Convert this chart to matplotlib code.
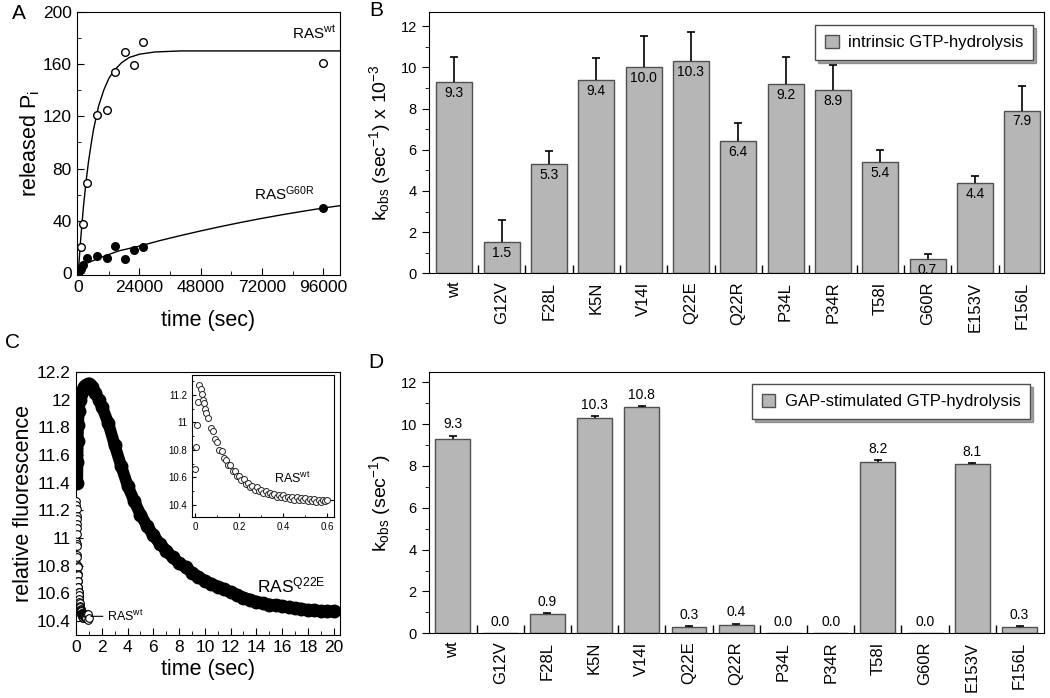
import numpy as np
import matplotlib
matplotlib.use("Agg")
import matplotlib.pyplot as plt
from matplotlib.ticker import MultipleLocator, FormatStrFormatter

plt.rcParams['font.family'] = ['Liberation Sans', 'DejaVu Sans']
plt.rcParams['mathtext.fontset'] = 'custom'
plt.rcParams['mathtext.rm'] = 'Liberation Sans'
plt.rcParams['mathtext.it'] = 'Liberation Sans:italic'
plt.rcParams['mathtext.bf'] = 'Liberation Sans:bold'

# ------------------------------------- Panel A : released Pi -------------#
pi_time = [0, 1000, 2000, 3500, 7200, 11100, 14600, 18300, 21900, 25400, 96100]
pi_wt = [0, 20, 38, 69, 121, 125, 154, 169, 159, 177, 161]
pi_g60r = [0, 3, 6, 11.5, 13, 12, 21, 11, 17.5, 20, 50]

wt_fit_t = [0, 1000, 2000, 3000, 4000, 5000, 6000, 8000, 10000, 12000, 14000,
            17000, 20000, 24000, 30000, 40000, 103000]
wt_fit_y = [0, 27, 50, 69, 85, 98, 110, 128, 140, 149, 155,
            161, 165, 167.5, 169.2, 170, 170]
g60r_fit_t = [0, 500, 1000, 2000, 3000, 4000, 8000, 12000, 16000, 24000, 32000,
              40000, 48000, 56000, 64000, 72000, 80000, 88000, 96000, 103000]
g60r_fit_y = [0, 3.3, 5.2, 6.9, 7.6, 8.2, 11.5, 14.4, 17.2, 20.8, 25,
              28.8, 32.4, 35.8, 39, 42, 44.8, 47.4, 49.9, 51.8]

# ------------------------------------- Panels B / D : bar data -----------#
mutants = ['wt', 'G12V', 'F28L', 'K5N', 'V14I', 'Q22E', 'Q22R', 'P34L',
           'P34R', 'T58I', 'G60R', 'E153V', 'F156L']
intrinsic = [9.3, 1.5, 5.3, 9.4, 10.0, 10.3, 6.4, 9.2, 8.9, 5.4, 0.7, 4.4, 7.9]
intrinsic_err = [1.2, 1.1, 0.65, 1.05, 1.5, 1.4, 0.9, 1.3, 1.2, 0.6, 0.25, 0.33, 1.2]
gap = [9.3, 0.0, 0.9, 10.3, 10.8, 0.3, 0.4, 0.0, 0.0, 8.2, 0.0, 8.1, 0.3]
gap_err = [0.15, 0, 0.05, 0.07, 0.07, 0.03, 0.06, 0, 0, 0.08, 0, 0.05, 0.03]

# ------------------------------------- Panel C : fluorescence ------------#
q22e_t = [0.08, 0.10, 0.12, 0.15, 0.20, 0.30, 0.40, 0.50, 0.60, 0.70, 0.80,
          0.90, 1.00, 1.10, 1.25, 1.50, 1.75, 2.00, 2.5, 3.0, 3.5, 4.0, 4.5,
          5.0, 5.5, 6.0, 6.5, 7.0, 7.5, 8.0, 8.5, 9.0, 9.5, 10.0, 10.5, 11.0,
          11.5, 12.0, 12.5, 13.0, 13.5, 14.0, 14.5, 15.0, 15.5, 16.0, 16.5,
          17.0, 17.5, 18.0, 18.5, 19.0, 19.5, 20.0]
q22e_y = [11.40, 11.55, 11.70, 11.82, 11.92, 12.00, 12.04, 12.07, 12.09, 12.10,
          12.105, 12.11, 12.11, 12.105, 12.09, 12.05, 12.00, 11.95, 11.83,
          11.67, 11.52, 11.38, 11.27, 11.17, 11.09, 11.02, 10.96, 10.91, 10.86,
          10.82, 10.79, 10.75, 10.72, 10.69, 10.67, 10.65, 10.63, 10.61, 10.59,
          10.57, 10.555, 10.54, 10.53, 10.52, 10.515, 10.51, 10.50, 10.495,
          10.49, 10.48, 10.477, 10.474, 10.472, 10.47]

wt_t = [0.000, 0.005, 0.010, 0.015, 0.020, 0.025, 0.030, 0.035, 0.040, 0.045,
        0.050, 0.06, 0.07, 0.08, 0.09, 0.10, 0.11, 0.12, 0.13, 0.14, 0.15,
        0.16, 0.17, 0.18, 0.19, 0.20, 0.21, 0.22, 0.23, 0.24, 0.25, 0.26,
        0.27, 0.28, 0.29, 0.30, 0.31, 0.32, 0.33, 0.34, 0.35, 0.36, 0.37,
        0.38, 0.39, 0.40, 0.41, 0.42, 0.43, 0.44, 0.45, 0.46, 0.47, 0.48,
        0.49, 0.50, 0.51, 0.52, 0.53, 0.54, 0.55, 0.56, 0.57, 0.58, 0.59,
        0.60, 0.65, 0.70, 0.75, 0.80, 0.85, 0.90, 0.95, 1.00]
wt_y = [10.66, 10.82, 10.98, 11.15, 11.27, 11.24, 11.21, 11.16, 11.14, 11.10,
        11.07, 11.03, 10.96, 10.94, 10.88, 10.86, 10.80, 10.79, 10.74, 10.73,
        10.69, 10.69, 10.65, 10.65, 10.61, 10.61, 10.58, 10.59, 10.55, 10.56,
        10.53, 10.54, 10.51, 10.53, 10.50, 10.51, 10.49, 10.50, 10.48, 10.49,
        10.47, 10.48, 10.46, 10.47, 10.455, 10.47, 10.45, 10.46, 10.445, 10.46,
        10.44, 10.455, 10.44, 10.45, 10.435, 10.45, 10.43, 10.445, 10.43,
        10.445, 10.425, 10.44, 10.425, 10.44, 10.43, 10.435, 10.44, 10.43,
        10.44, 10.42, 10.45, 10.41, 10.45, 10.42]
wt_fit_end = 10.437

fig = plt.figure(figsize=(10.5, 6.98), dpi=100)


def px_axes(left, top, right, bottom):
    # axes box given in pixels of the 1050 x 698 picture
    W, H = 1050.0, 698.0
    return fig.add_axes([left / W, 1 - bottom / H, (right - left) / W, (bottom - top) / H])


# ------------------------------------- A ---------------------------------#
ax_a = px_axes(76.7, 11.7, 340, 275)
ax_a.plot(wt_fit_t, wt_fit_y, color='k', lw=1)
ax_a.plot(g60r_fit_t, g60r_fit_y, color='k', lw=1)
ax_a.plot(pi_time, pi_wt, 'o', ms=5.5, mfc='white', mec='k', mew=1, zorder=3)
ax_a.plot(pi_time, pi_g60r, 'o', ms=5.5, color='k', zorder=4)
ax_a.set_xlim(-600, 102600)
ax_a.set_ylim(-1.3, 200)
ax_a.xaxis.set_major_locator(MultipleLocator(24000))
ax_a.xaxis.set_minor_locator(MultipleLocator(12000))
ax_a.yaxis.set_major_locator(MultipleLocator(40))
ax_a.yaxis.set_minor_locator(MultipleLocator(20))
ax_a.tick_params(which='both', direction='in', labelsize=12.5)
ax_a.tick_params(which='major', length=5)
ax_a.tick_params(which='minor', length=3)
ax_a.text(101000, 184, r'RAS$^{\mathrm{wt}}$', ha='right', va='center', fontsize=11)
ax_a.text(92800, 61, r'RAS$^{\mathrm{G60R}}$', ha='right', va='center', fontsize=11)
ax_a.set_xlabel('time (sec)', fontsize=15.5, va='center')
ax_a.set_ylabel(r'released P$_{\mathrm{i}}$', fontsize=15.5, va='center')
ax_a.xaxis.set_label_coords(0.5, -0.171)
ax_a.yaxis.set_label_coords(-0.177, 0.5)


# ------------------------------------- B / D -----------------------------#
def bar_panel(ax, values, errors, ylim, xlim, width, ylabel, legend_label,
              anchor, inside):
    x = np.arange(len(mutants))
    vals = np.array(values)
    errs = np.array(errors)
    bars = ax.bar(x, vals, width, color='#b6b6b6', edgecolor='#505050',
                  linewidth=1, zorder=2)
    idx = np.where(errs > 0)[0]
    ax.errorbar(x[idx], vals[idx], yerr=[np.zeros(len(idx)), errs[idx]],
                fmt='none', ecolor='k', elinewidth=1.2, capsize=0, zorder=3)
    ax.plot(x[idx], vals[idx] + errs[idx], ls='none', marker='_', ms=5.5,
            mew=1.2, color='k', zorder=3)
    for i, v in enumerate(vals):
        if inside:
            ax.text(i, v - 0.19, f'{v:.1f}', ha='center', va='top', fontsize=10,
                    zorder=4)
        else:
            ax.text(i, v + errs[i] + 0.2, f'{v:.1f}', ha='center', va='bottom',
                    fontsize=10, zorder=4)
    ax.set_xlim(*xlim)
    ax.set_ylim(*ylim)
    ax.set_xticks(x)
    ax.set_xticklabels(mutants, rotation=90, fontsize=12)
    ax.set_xticks(x[:-1] + 0.5, minor=True)
    ax.tick_params(axis='x', which='major', length=0, pad=6)
    ax.tick_params(axis='x', which='minor', direction='in', length=6, width=1)
    ax.yaxis.set_major_locator(MultipleLocator(2))
    ax.yaxis.set_minor_locator(MultipleLocator(1))
    ax.tick_params(axis='y', which='both', direction='out', labelsize=10.5)
    ax.tick_params(axis='y', which='major', length=5)
    ax.tick_params(axis='y', which='minor', length=3)
    ax.set_ylabel(ylabel, fontsize=14, va='center')
    ax.yaxis.set_label_coords(-0.079, 0.5)
    ax.legend([bars], [legend_label], loc='upper right', bbox_to_anchor=anchor,
              fontsize=12, frameon=True, fancybox=False, shadow=True,
              edgecolor='0.3', framealpha=1, handlelength=0.8, handleheight=0.8,
              handletextpad=0.55, borderpad=0.6, borderaxespad=0)


ax_b = px_axes(428.6, 11.7, 1043.6, 273.3)
bar_panel(ax_b, intrinsic, intrinsic_err, (0, 12.7), (-0.54, 12.45), 0.76,
          r'k$_{\mathrm{obs}}$ (sec$^{-1}$) x 10$^{-3}$',
          'intrinsic GTP-hydrolysis', (0.983, 0.949), True)

ax_d = px_axes(428.6, 371.7, 1043.6, 633.3)
bar_panel(ax_d, gap, gap_err, (0, 12.5), (-0.515, 12.51), 0.74,
          r'k$_{\mathrm{obs}}$ (sec$^{-1}$)',
          'GAP-stimulated GTP-hydrolysis', (0.9785, 0.953), False)

# ------------------------------------- C ---------------------------------#
ax_c = px_axes(75.5, 372, 340, 635)
ax_c.plot(q22e_t, q22e_y, color='k', lw=8.5, solid_capstyle='round', zorder=2)
ax_c.plot(q22e_t, q22e_y, 'o', ms=9, color='k', zorder=2)
ax_c.hlines(q22e_y[-1], q22e_t[-1], 20.5, color='k', lw=1, zorder=1)
ax_c.plot(wt_t, wt_y, 'o', ms=5.5, mfc='white', mec='k', mew=0.8, zorder=3)
ax_c.annotate(r'RAS$^{\mathrm{wt}}$', xy=(1.15, 10.435), xytext=(2.4, 10.435),
              va='center', fontsize=9,
              arrowprops=dict(arrowstyle='-', color='k', lw=0.8, shrinkA=1, shrinkB=0))
ax_c.text(19.4, 10.66, r'RAS$^{\mathrm{Q22E}}$', ha='right', va='center', fontsize=12.5)
ax_c.set_xlim(-0.05, 20.5)
ax_c.set_ylim(10.3, 12.2)
ax_c.xaxis.set_major_locator(MultipleLocator(2))
ax_c.xaxis.set_minor_locator(MultipleLocator(1))
ax_c.yaxis.set_major_locator(MultipleLocator(0.2))
ax_c.yaxis.set_major_formatter(FormatStrFormatter('%g'))
ax_c.tick_params(which='both', direction='in', labelsize=12.5)
ax_c.tick_params(which='major', length=5)
ax_c.tick_params(which='minor', length=3)
ax_c.set_xlabel('time (sec)', fontsize=15.5, va='center')
ax_c.set_ylabel('relative fluorescence', fontsize=15.5, va='center')
ax_c.xaxis.set_label_coords(0.5, -0.133)
ax_c.yaxis.set_label_coords(-0.198, 0.5)

ax_in = px_axes(192, 375, 334, 516.7)
ax_in.plot(wt_t, wt_y, 'o', ms=4.3, mfc='white', mec='0.15', mew=0.7, zorder=3)
ax_in.hlines(wt_fit_end, wt_t[65], 0.63, color='k', lw=0.8, zorder=2)
ax_in.text(0.44, 10.595, r'RAS$^{\mathrm{wt}}$', ha='center', va='center', fontsize=9)
ax_in.set_xlim(-0.014, 0.63)
ax_in.set_ylim(10.315, 11.345)
ax_in.xaxis.set_major_locator(MultipleLocator(0.2))
ax_in.xaxis.set_minor_locator(MultipleLocator(0.1))
ax_in.yaxis.set_major_locator(MultipleLocator(0.2))
ax_in.yaxis.set_minor_locator(MultipleLocator(0.1))
ax_in.xaxis.set_major_formatter(FormatStrFormatter('%g'))
ax_in.yaxis.set_major_formatter(FormatStrFormatter('%g'))
ax_in.tick_params(which='both', direction='in', labelsize=7)
ax_in.tick_params(which='major', length=3)
ax_in.tick_params(which='minor', length=1.5)

# ------------------------------------- panel letters ---------------------#
for letter, (px, py) in zip('ABCD', [(18.5, 13.5), (376, 10.5), (12, 342.5), (375.5, 362)]):
    fig.text(px / 1050, 1 - py / 698, letter, fontsize=15, ha='center', va='center')

fig.savefig('out.png', dpi=100)
